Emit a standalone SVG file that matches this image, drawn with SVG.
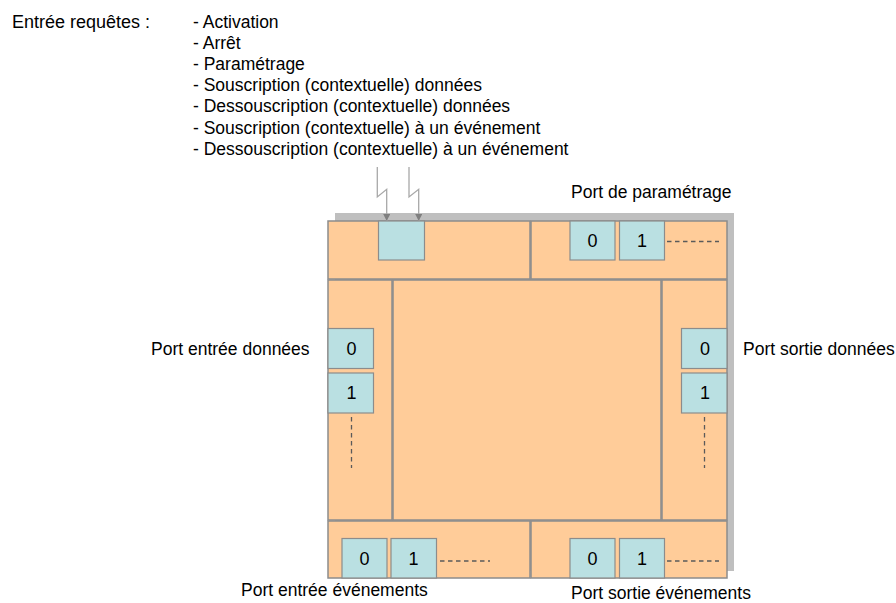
<svg xmlns="http://www.w3.org/2000/svg" width="896" height="603" viewBox="0 0 896 603">
  <style>
    text { font-family: "Liberation Sans", Arial, sans-serif; font-size: 17.5px; fill: #000; }
    .num { text-anchor: middle; font-size: 18px; }
    .panel { fill: #FFCC99; stroke: #8C8C8C; stroke-width: 1.5; }
    .port { fill: #BAE0E2; stroke: #8C8C8C; stroke-width: 1.2; }
    .dash { stroke: #5A5A5A; stroke-width: 1.3; stroke-dasharray: 4.5 3.5; fill: none; }
    .bolt { stroke: #A8A8A8; stroke-width: 1.3; fill: none; }
  </style>
  <defs>
    <marker id="arrow" viewBox="0 0 8 8" refX="8" refY="4" markerWidth="7" markerHeight="7" markerUnits="userSpaceOnUse" orient="auto">
      <path d="M0,0 L8,4 L0,8 z" fill="#7F7F7F"/>
    </marker>
  </defs>

  <rect width="896" height="603" fill="#FFFFFF"/>

  <g id="requests-label">
    <text x="12" y="28" style="font-size:18px">Entrée requêtes :</text>
    <text x="193" y="28">- Activation</text>
    <text x="193" y="49.1">- Arrêt</text>
    <text x="193" y="70.2">- Paramétrage</text>
    <text x="193" y="91.3">- Souscription (contextuelle) données</text>
    <text x="193" y="112.4">- Dessouscription (contextuelle) données</text>
    <text x="193" y="133.5">- Souscription (contextuelle) à un événement</text>
    <text x="193" y="154.6">- Dessouscription (contextuelle) à un événement</text>
  </g>

  <g id="component">
    <rect x="335" y="213" width="399" height="358" fill="#BFBFBF"/>
    <rect class="panel" x="328" y="221" width="202" height="58"/>
    <rect class="panel" x="531" y="221" width="196" height="58"/>
    <rect class="panel" x="328" y="280" width="64" height="240"/>
    <rect class="panel" x="393" y="280" width="268" height="240"/>
    <rect class="panel" x="662" y="280" width="65" height="240"/>
    <rect class="panel" x="328" y="521" width="202" height="57"/>
    <rect class="panel" x="531" y="521" width="196" height="57"/>
  </g>

  <g id="request-port">
    <rect class="port" x="378.5" y="221" width="46" height="39"/>
  </g>

  <g id="param-port">
    <rect class="port" x="570" y="221" width="45" height="39"/>
    <text class="num" x="592.5" y="247">0</text>
    <rect class="port" x="619.5" y="221" width="45" height="39"/>
    <text class="num" x="642" y="247">1</text>
    <line class="dash" x1="667" y1="241.5" x2="719" y2="241.5"/>
    <text x="571" y="198">Port de paramétrage</text>
  </g>

  <g id="data-in-port">
    <rect class="port" x="328" y="328.5" width="45.5" height="40"/>
    <text class="num" x="351.5" y="355">0</text>
    <rect class="port" x="328" y="373" width="45.5" height="40"/>
    <text class="num" x="351.5" y="399">1</text>
    <line class="dash" x1="351.5" y1="417" x2="351.5" y2="468"/>
    <text x="151" y="355">Port entrée données</text>
  </g>

  <g id="data-out-port">
    <rect class="port" x="681.5" y="328.5" width="45.5" height="40"/>
    <text class="num" x="705" y="355">0</text>
    <rect class="port" x="681.5" y="373" width="45.5" height="40"/>
    <text class="num" x="705" y="399">1</text>
    <line class="dash" x1="704.5" y1="417" x2="704.5" y2="468"/>
    <text x="743" y="355">Port sortie données</text>
  </g>

  <g id="event-in-port">
    <rect class="port" x="342" y="538.5" width="45" height="39.5"/>
    <text class="num" x="364.5" y="565">0</text>
    <rect class="port" x="391" y="538.5" width="45.5" height="39.5"/>
    <text class="num" x="413.5" y="565">1</text>
    <line class="dash" x1="440" y1="561" x2="490" y2="561"/>
    <text x="241" y="596">Port entrée événements</text>
  </g>

  <g id="event-out-port">
    <rect class="port" x="570" y="538.5" width="45" height="39.5"/>
    <text class="num" x="592.5" y="565">0</text>
    <rect class="port" x="619.5" y="538.5" width="45" height="39.5"/>
    <text class="num" x="642" y="565">1</text>
    <line class="dash" x1="667" y1="561" x2="719" y2="561"/>
    <text x="571" y="599">Port sortie événements</text>
  </g>

  <g id="connectors">
    <path class="bolt" d="M377.3,167 L377.3,197 L386.7,189.3 L386.7,221" marker-end="url(#arrow)"/>
    <path class="bolt" d="M409,167 L409,197 L418.7,189.3 L418.7,221" marker-end="url(#arrow)"/>
  </g>
</svg>
